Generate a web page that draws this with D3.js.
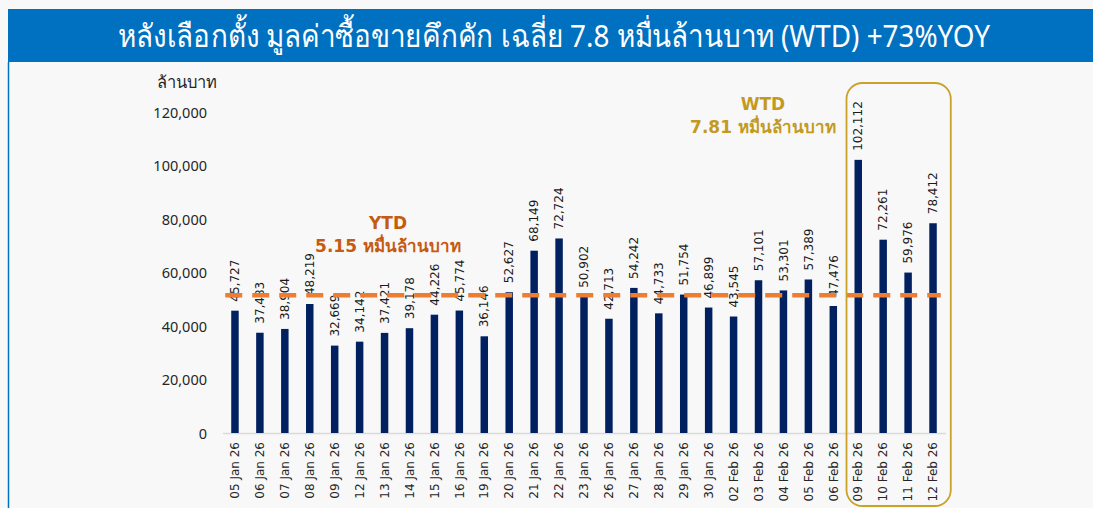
<!DOCTYPE html>
<html>
<head>
<meta charset="utf-8">
<script src="https://cdn.jsdelivr.net/npm/d3@7"></script>
<style>
  body { margin: 0; background: #f8f8f8; }
  text { font-family: "DejaVu Sans", sans-serif; }
  .ylab text { font-family: "Noto Sans", "Open Sans", sans-serif; font-size: 14.5px; fill: #262626; }
  .xlab text { font-family: "DejaVu Sans", sans-serif; font-size: 12px; fill: #262626; }
  .val { font-family: "DejaVu Sans", sans-serif; font-size: 12px; fill: #1a1a1a; }
</style>
</head>
<body>
<div id="chart"></div>
<script>
const width = 1093
const height = 508
const margin = { top: 112, bottom: 75, left: 222.5, right: 147.5 }

// datos
const days = ["05 Jan 26","06 Jan 26","07 Jan 26","08 Jan 26","09 Jan 26","12 Jan 26","13 Jan 26","14 Jan 26",
  "15 Jan 26","16 Jan 26","19 Jan 26","20 Jan 26","21 Jan 26","22 Jan 26","23 Jan 26","26 Jan 26","27 Jan 26",
  "28 Jan 26","29 Jan 26","30 Jan 26","02 Feb 26","03 Feb 26","04 Feb 26","05 Feb 26","06 Feb 26",
  "09 Feb 26","10 Feb 26","11 Feb 26","12 Feb 26"]
const values = [45727,37483,38904,48219,32669,34142,37421,39178,44226,45774,36146,52627,68149,72724,50902,
  42713,54242,44733,51754,46899,43545,57101,53301,57389,47476,102112,72261,59976,78412]
const yTicks = [0, 20000, 40000, 60000, 80000, 100000, 120000]
const ytdAvg = 51500
const wtdDays = ["09 Feb 26","10 Feb 26","11 Feb 26","12 Feb 26"]

const title = "หลังเลือกตั้ง มูลค่าซื้อขายคึกคัก เฉลี่ย 7.8 หมื่นล้านบาท (WTD) +73%YOY"

const data = days.map((d, i) => ({ day: d, value: values[i] }))

const svg = d3.select("div#chart")
  .append("svg")
  .attr("width", width)
  .attr("height", height)

// banner
svg.append("rect")
  .attr("x", 8).attr("y", 9)
  .attr("width", width - 8).attr("height", 53)
  .attr("fill", "#0070c0")
svg.append("line")
  .attr("x1", 8.5).attr("x2", 8.5).attr("y1", 62).attr("y2", height)
  .attr("stroke", "#0070c0").attr("stroke-width", 1.5)
svg.append("text")
  .attr("x", 554).attr("y", 47)
  .attr("text-anchor", "middle")
  .attr("textLength", 872)
  .attr("lengthAdjust", "spacingAndGlyphs")
  .style("font-family", "'Noto Sans', sans-serif")
  .style("font-size", "31px")
  .attr("fill", "#fff")
  .text(title)

// escalas
const x = d3.scaleBand().domain(days).range([margin.left, width - margin.right]).paddingInner(0.7).paddingOuter(0.35)
const y = d3.scaleLinear().domain([0, 120000]).range([433, margin.top])

// ejes
const xAxis = d3.axisBottom(x).tickSize(0).tickSizeOuter(0)
const yAxis = d3.axisLeft(y).tickValues(yTicks).tickFormat(d3.format(",")).tickSize(0).tickPadding(0)

const yAxisGroup = svg.append("g").attr("class", "ylab")
  .attr("transform", `translate(207, 0)`)
  .call(yAxis)
yAxisGroup.select(".domain").remove()
yAxisGroup.selectAll("text").attr("dy", "0.35em")

const xAxisGroup = svg.append("g").attr("class", "xlab")
  .attr("transform", `translate(0, 433)`)
  .call(xAxis)
xAxisGroup.select(".domain").attr("stroke", "#d9d9d9").attr("stroke-width", 1.5)
xAxisGroup.selectAll("text")
  .attr("transform", "rotate(-90)")
  .attr("x", -9)
  .attr("y", 0)
  .attr("dy", "0.35em")
  .style("text-anchor", "end")

svg.append("text")
  .attr("x", 157).attr("y", 88)
  .style("font-family", "'Noto Sans', sans-serif")
  .style("font-size", "16.5px")
  .attr("fill", "#262626")
  .text("ล้านบาท")

// barras
const elementGroup = svg.append("g").attr("id", "elementGroup")
elementGroup.selectAll("rect").data(data)
  .join("rect")
  .attr("x", d => x(d.day))
  .attr("y", d => y(d.value))
  .attr("width", x.bandwidth())
  .attr("height", d => y(0) - y(d.value))
  .attr("fill", "#002060")

// linea YTD
svg.append("line")
  .attr("x1", x(days[0]) - 6)
  .attr("x2", x(days[days.length - 1]) + x.bandwidth() + 4)
  .attr("y1", y(ytdAvg)).attr("y2", y(ytdAvg))
  .attr("stroke", "#ed7d31")
  .attr("stroke-width", 4.5)
  .attr("stroke-dasharray", "17,10")

// etiquetas
elementGroup.selectAll("text.val").data(data)
  .join("text")
  .attr("class", "val")
  .attr("transform", d => `translate(${x(d.day) + x.bandwidth() / 2}, ${y(d.value) - 9}) rotate(-90)`)
  .attr("dy", "0.35em")
  .text(d => d3.format(",")(d.value))

// caja WTD
const bx = x(wtdDays[0]) - 8
svg.append("rect")
  .attr("x", bx).attr("y", 83)
  .attr("width", x(wtdDays[3]) + x.bandwidth() + 14 - bx)
  .attr("height", 423)
  .attr("rx", 16)
  .attr("fill", "none")
  .attr("stroke", "#c9a227")
  .attr("stroke-width", 1.8)

const ann = svg.append("g").style("font-family", "'Noto Sans', sans-serif").style("font-weight", "bold").style("font-size", "17px")
ann.append("text").attr("x", 388).attr("y", 229).attr("text-anchor", "middle").attr("fill", "#c55a11").text("YTD")
ann.append("text").attr("x", 388).attr("y", 252).attr("text-anchor", "middle").attr("fill", "#c55a11").text("5.15 หมื่นล้านบาท")
ann.append("text").attr("x", 763).attr("y", 110).attr("text-anchor", "middle").attr("fill", "#c39a1e").text("WTD")
ann.append("text").attr("x", 763).attr("y", 133).attr("text-anchor", "middle").attr("fill", "#c39a1e").text("7.81 หมื่นล้านบาท")
</script>
</body>
</html>
